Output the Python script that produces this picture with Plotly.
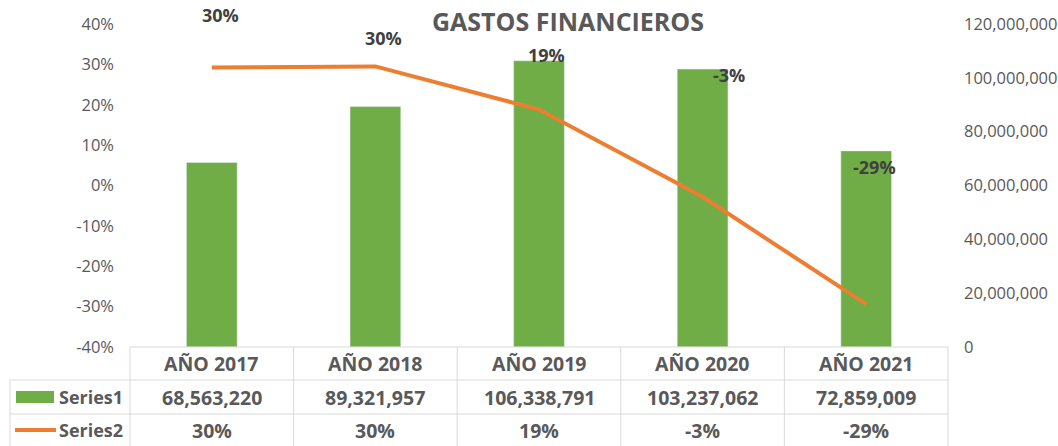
import plotly.graph_objects as go

categories = ["AÑO 2017", "AÑO 2018", "AÑO 2019", "AÑO 2020", "AÑO 2021"]
series1 = [68563220, 89321957, 106338791, 103237062, 72859009]
series2 = [0.292, 0.295, 0.188, -0.028, -0.294]
series2_labels = ["30%", "30%", "19%", "-3%", "-29%"]
series_names = ["Series1", "Series2"]
pct_ticks = [-0.4, -0.3, -0.2, -0.1, 0.0, 0.1, 0.2, 0.3, 0.4]
pct_tick_labels = ["-40%", "-30%", "-20%", "-10%", "0%", "10%", "20%", "30%", "40%"]

# label placement in pixels (layout, not data)
label_dx = [0.055, 0.05, 0.045, 0.16, 0.05]
label_py = [15, 38, 55, 75, 167]

W, H = 1058, 446
ML, MR, MT, MB = 130, 110, 24, 99
PW, PH = W - ML - MR, H - MT - MB

def px(xp):
    return (xp - ML) / PW

def py(yp):
    return (H - MB - yp) / PH

GREEN = "#70ad47"
ORANGE = "#ed7d31"
GRID = "#d9d9d9"
TXT = "#595959"
FONT = "Open Sans"

xs = list(range(len(categories)))

fig = go.Figure()
fig.add_trace(go.Bar(x=xs, y=series1, name=series_names[0], marker_color=GREEN,
                     width=0.31, yaxis="y"))
fig.add_trace(go.Scatter(x=xs, y=series2, name=series_names[1], mode="lines",
                         line=dict(color=ORANGE, width=4), yaxis="y2"))

annotations = []
for i, (t, dx, yp) in enumerate(zip(series2_labels, label_dx, label_py)):
    annotations.append(dict(x=i + dx, y=py(yp), xref="x", yref="paper", text=f"<b>{t}</b>",
                            xanchor="center", yanchor="middle",
                            showarrow=False, font=dict(family=FONT, size=18, color="#404040")))

annotations.append(dict(x=px(568), y=py(21), xref="paper", yref="paper",
                        xanchor="center", yanchor="middle",
                        text="<b>GASTOS FINANCIEROS</b>", showarrow=False,
                        font=dict(family=FONT, size=25, color=TXT)))

shapes = []
n = len(categories)
row_top, row1, row2, row_bot = 347, 380, 414, 446
line_style = dict(color=GRID, width=1)
for k in range(n + 1):
    xp = k / n
    shapes.append(dict(type="line", xref="paper", yref="paper", x0=xp, x1=xp,
                       y0=py(row_top), y1=py(row_bot + 2), line=line_style))
shapes.append(dict(type="line", xref="paper", yref="paper", x0=px(10), x1=px(10),
                   y0=py(row1), y1=py(row_bot + 2), line=line_style))
shapes.append(dict(type="line", xref="paper", yref="paper", x0=0, x1=1,
                   y0=py(row_top), y1=py(row_top), line=line_style))
for yp in (row1, row2):
    shapes.append(dict(type="line", xref="paper", yref="paper", x0=px(10), x1=1,
                       y0=py(yp), y1=py(yp), line=line_style))

cell_font = dict(family=FONT, size=19.5, color=TXT)
for i, c in enumerate(categories):
    xc = (i + 0.5) / n
    for text, yc in ((c, (row_top + row1) / 2),
                     (f"{series1[i]:,}", (row1 + row2) / 2),
                     (series2_labels[i], (row2 + row_bot) / 2)):
        annotations.append(dict(x=xc, y=py(yc), xref="paper", yref="paper",
                                xanchor="center", yanchor="middle",
                                text=f"<b>{text}</b>", showarrow=False, font=cell_font))

name_font = dict(family=FONT, size=18, color=TXT)
annotations.append(dict(x=px(125), y=py((row1 + row2) / 2), xref="paper", yref="paper",
                        xanchor="right", yanchor="middle",
                        text=f"<b>{series_names[0]}</b>", showarrow=False, font=name_font))
annotations.append(dict(x=px(125), y=py((row2 + row_bot) / 2), xref="paper", yref="paper",
                        xanchor="right", yanchor="middle",
                        text=f"<b>{series_names[1]}</b>", showarrow=False, font=name_font))
shapes.append(dict(type="rect", xref="paper", yref="paper", x0=px(16), x1=px(54),
                   y0=py(403), y1=py(391), fillcolor=GREEN, line=dict(width=0)))
shapes.append(dict(type="line", xref="paper", yref="paper", x0=px(15), x1=px(56),
                   y0=py(430), y1=py(430), line=dict(color=ORANGE, width=4)))

fig.update_layout(
    width=W, height=H,
    margin=dict(l=ML, r=MR, t=MT, b=MB, autoexpand=False),
    paper_bgcolor="white", plot_bgcolor="white",
    showlegend=False,
    font=dict(family=FONT, color=TXT),
    xaxis=dict(range=[-0.5, n - 0.5], showticklabels=False, showgrid=False,
               zeroline=False, showline=False, ticks=""),
    yaxis=dict(side="right", range=[0, 120000000], dtick=20000000, tickformat=",",
               showgrid=False, zeroline=False, showline=False, ticks="", automargin=False,
               ticklabelstandoff=15, tickfont=dict(family=FONT, size=16.5, color=TXT)),
    yaxis2=dict(side="left", overlaying="y", range=[-0.4, 0.4],
                tickmode="array", tickvals=pct_ticks, ticktext=pct_tick_labels,
                showgrid=False, zeroline=False, showline=False, ticks="", automargin=False,
                ticklabelstandoff=15, tickfont=dict(family=FONT, size=16.5, color=TXT)),
    annotations=annotations,
    shapes=shapes,
)

fig.write_html("out.html", config={"displayModeBar": False},
               post_script="document.body.style.margin='0';document.body.style.overflow='hidden';")
